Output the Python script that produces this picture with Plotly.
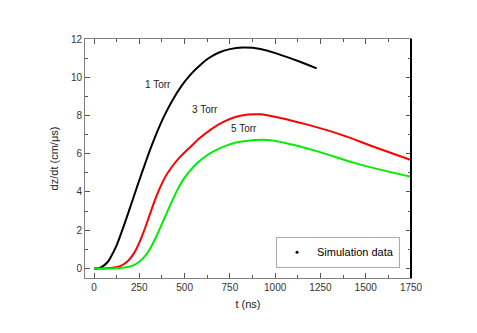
import plotly.graph_objects as go

# 1 Torr (black)
t_1torr = [0, 29, 50, 76, 94, 122, 150, 196, 242, 279, 307, 340, 381, 430, 483, 529, 576, 630,
           687, 750, 820, 918, 1029, 1141, 1229]
v_1torr = [0, 0.02, 0.12, 0.35, 0.62, 1.15, 1.85, 3.1, 4.4, 5.4, 6.15, 6.95, 7.85, 8.75, 9.55,
           10.1, 10.55, 10.98, 11.28, 11.47, 11.55, 11.48, 11.17, 10.8, 10.46]

# 3 Torr (red)
t_3torr = [0, 60, 113, 150, 190, 224, 250, 279, 307, 335, 363, 391, 430, 474, 539, 585, 650, 714,
           780, 850, 918, 1029, 1178, 1363, 1548, 1750]
v_3torr = [0, 0, 0.05, 0.15, 0.42, 0.85, 1.35, 2.05, 2.8, 3.55, 4.2, 4.75, 5.32, 5.82, 6.42, 6.83,
           7.3, 7.66, 7.92, 8.05, 8.06, 7.87, 7.52, 7.0, 6.35, 5.67]

# 5 Torr (green)
t_5torr = [0, 100, 168, 205, 242, 279, 307, 335, 363, 391, 437, 465, 500, 557, 610, 659, 752, 835,
           955, 1085, 1270, 1455, 1750]
v_5torr = [0, 0, 0.05, 0.12, 0.3, 0.62, 1.0, 1.5, 2.08, 2.68, 3.65, 4.2, 4.75, 5.4, 5.82, 6.12,
           6.5, 6.66, 6.72, 6.5, 6.02, 5.47, 4.8]

labels = ["1 Torr", "3 Torr", "5 Torr"]
label_t = [353, 613, 830]
label_v = [9.6, 8.32, 7.32]

fig = go.Figure()
for t, v, c in [(t_1torr, v_1torr, "black"), (t_3torr, v_3torr, "#ff0000"), (t_5torr, v_5torr, "#00ee00")]:
    fig.add_trace(go.Scatter(x=t, y=v, mode="lines",
                             line=dict(color=c, width=2, shape="spline", smoothing=1.2),
                             showlegend=False))

# legend-only entry
fig.add_trace(go.Scatter(x=[None], y=[None], mode="markers", name="Simulation data",
                         marker=dict(color="black", size=3)))

for txt, tx, ty in zip(labels, label_t, label_v):
    fig.add_annotation(x=tx, y=ty, text=txt, showarrow=False,
                       font=dict(family="Liberation Sans, Arial", size=10, color="#222"))

# right edge drawn black like the original
fig.add_shape(type="line", xref="paper", yref="paper", x0=1, x1=1, y0=0, y1=1,
              line=dict(color="black", width=2))

axis_style = dict(showline=True, linecolor="#808080", linewidth=1, mirror="allticks",
                  ticks="inside", ticklen=5, tickcolor="#555", showgrid=False, zeroline=False,
                  automargin=False,
                  tickfont=dict(family="Liberation Sans, Arial", size=10, color="#333"))

fig.update_xaxes(range=[-50, 1750], dtick=250, tick0=0,
                 minor=dict(dtick=125, ticks="inside", ticklen=3, tickcolor="#555"),
                 title=dict(text="t (ns)", standoff=8,
                            font=dict(family="Liberation Sans, Arial", size=11, color="#222")),
                 **axis_style)
fig.update_yaxes(range=[-0.5, 12], dtick=2, tick0=0,
                 minor=dict(dtick=1, ticks="inside", ticklen=3, tickcolor="#555"),
                 title=dict(text="dz/dt (cm/μs)", standoff=10,
                            font=dict(family="Liberation Sans, Arial", size=11, color="#222")),
                 **axis_style)

# page has an 8px body margin, so margins are shifted to keep the plot box in place
fig.update_layout(
    width=477, height=333,
    margin=dict(l=77, r=74, t=31, b=63),
    plot_bgcolor="white", paper_bgcolor="white",
    legend=dict(x=0.586, y=0.173, xanchor="left", yanchor="top",
                bordercolor="#aaa", borderwidth=1, bgcolor="white",
                font=dict(family="Liberation Sans, Arial", size=11, color="black")),
)

fig.write_html("out.html")
